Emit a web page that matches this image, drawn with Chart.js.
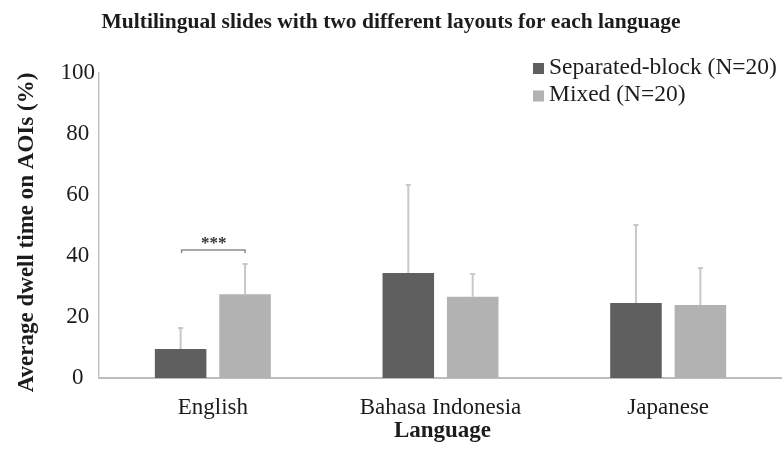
<!DOCTYPE html>
<html><head><meta charset="utf-8">
<script src="https://cdn.jsdelivr.net/npm/chart.js@4"></script>
<style>html,body{margin:0;padding:0;background:#fff}#wrap{width:782px;height:449px;position:relative}</style>
</head><body><div id="wrap"><canvas id="c" width="782" height="449"></canvas></div>
<script>
const categories = ['English', 'Bahasa Indonesia', 'Japanese'];
const seriesLabels = ['Separated-block (N=20)', 'Mixed (N=20)'];
const separatedMeans = [9.5, 34.4, 24.6];
const mixedMeans = [27.5, 26.6, 23.9];
const separatedSD = [6.9, 28.9, 25.6];
const mixedSD = [9.9, 7.5, 12.2];
const seriesColors = ['#5f5f5f', '#b2b2b2'];
const yTicks = [0, 20, 40, 60, 80, 100];
const sigCategory = [0];
const sigLabels = ['***'];
const sigLevels = [42];
const chartTitle = 'Multilingual slides with two different layouts for each language';
const xTitle = 'Language';
const yTitle = 'Average dwell time on AOIs (%)';

const FONT = "'Liberation Serif', 'Times New Roman', serif";
const TXT = '#1c1c1c';

const errorBarPlugin = {
  id: 'errorBars',
  afterDatasetsDraw(chart) {
    const ctx = chart.ctx, y = chart.scales.y;
    const sds = [separatedSD, mixedSD];
    const means = [separatedMeans, mixedMeans];
    ctx.save();
    ctx.strokeStyle = '#c8c8c8';
    ctx.lineWidth = 2;
    chart.data.datasets.forEach((ds, i) => {
      const meta = chart.getDatasetMeta(i);
      meta.data.forEach((el, j) => {
        const top = y.getPixelForValue(means[i][j] + sds[i][j]);
        ctx.beginPath();
        ctx.moveTo(el.x, el.y);
        ctx.lineTo(el.x, top);
        ctx.moveTo(el.x - 2.5, top);
        ctx.lineTo(el.x + 2.5, top);
        ctx.stroke();
      });
    });
    // significance bracket
    ctx.strokeStyle = '#8c8c8c';
    ctx.lineWidth = 1.5;
    sigCategory.forEach((c, k) => {
      const a = chart.getDatasetMeta(0).data[c];
      const b = chart.getDatasetMeta(1).data[c];
      const yy = y.getPixelForValue(sigLevels[k]);
      ctx.beginPath();
      ctx.moveTo(a.x + 1, yy + 3);
      ctx.lineTo(a.x + 1, yy);
      ctx.lineTo(b.x, yy);
      ctx.lineTo(b.x, yy + 3);
      ctx.stroke();
      ctx.fillStyle = '#333';
      ctx.font = 'bold 17px ' + FONT;
      ctx.textAlign = 'center';
      ctx.textBaseline = 'middle';
      ctx.fillText(sigLabels[k], (a.x + b.x) / 2 + 1, yy - 6);
    });
    ctx.restore();
  }
};

const textPlugin = {
  id: 'customText',
  afterDraw(chart) {
    const ctx = chart.ctx, area = chart.chartArea;
    ctx.save();
    // legend
    ctx.font = '23.5px ' + FONT;
    ctx.textBaseline = 'middle';
    ctx.textAlign = 'left';
    chart.data.datasets.forEach((ds, i) => {
      const cy = 68 + i * 27.5;
      ctx.fillStyle = ds.backgroundColor;
      ctx.fillRect(533, cy - 5, 11, 11);
      ctx.fillStyle = TXT;
      ctx.fillText(ds.label, 549, cy - 0.5);
    });
    // x axis title
    ctx.font = 'bold 23px ' + FONT;
    ctx.textAlign = 'center';
    ctx.textBaseline = 'alphabetic';
    ctx.fillText(xTitle, (area.left + area.right) / 2 + 2, 437);
    // y axis title
    ctx.translate(32.5, 232.5);
    ctx.rotate(-Math.PI / 2);
    ctx.fillText(yTitle, 0, 0);
    ctx.restore();
  }
};

new Chart(document.getElementById('c'), {
  type: 'bar',
  data: {
    labels: categories,
    datasets: [
      { label: seriesLabels[0], data: separatedMeans, backgroundColor: seriesColors[0], borderWidth: 0 },
      { label: seriesLabels[1], data: mixedMeans, backgroundColor: seriesColors[1], borderWidth: 0 }
    ]
  },
  options: {
    responsive: false,
    animation: false,
    events: [],
    layout: { padding: { top: 0, left: 0, right: 0, bottom: 0 } },
    datasets: { bar: { categoryPercentage: 0.566, barPercentage: 0.8 } },
    plugins: {
      legend: { display: false },
      tooltip: { enabled: false },
      title: {
        display: true,
        text: chartTitle,
        color: TXT,
        font: { family: FONT, size: 21.5, weight: 'bold' },
        padding: { top: 9.2, bottom: 38 }
      }
    },
    scales: {
      x: {
        grid: { display: false },
        border: { display: true, color: '#bdbdbd', width: 2 },
        ticks: { color: TXT, font: { family: FONT, size: 23 }, padding: 8.5, maxRotation: 0 },
        afterFit(s) { s.height = 71; }
      },
      y: {
        min: 0, max: 100,
        afterBuildTicks(s) { s.ticks = yTicks.map(v => ({ value: v })); },
        grid: { display: false, drawTicks: false },
        border: { display: true, color: '#c4c4c4', width: 1.5 },
        ticks: { color: TXT, font: { family: FONT, size: 23 }, padding: 4, crossAlign: 'center' },
        afterFit(s) { s.width = 99; }
      }
    }
  },
  plugins: [errorBarPlugin, textPlugin]
});
</script></body></html>
